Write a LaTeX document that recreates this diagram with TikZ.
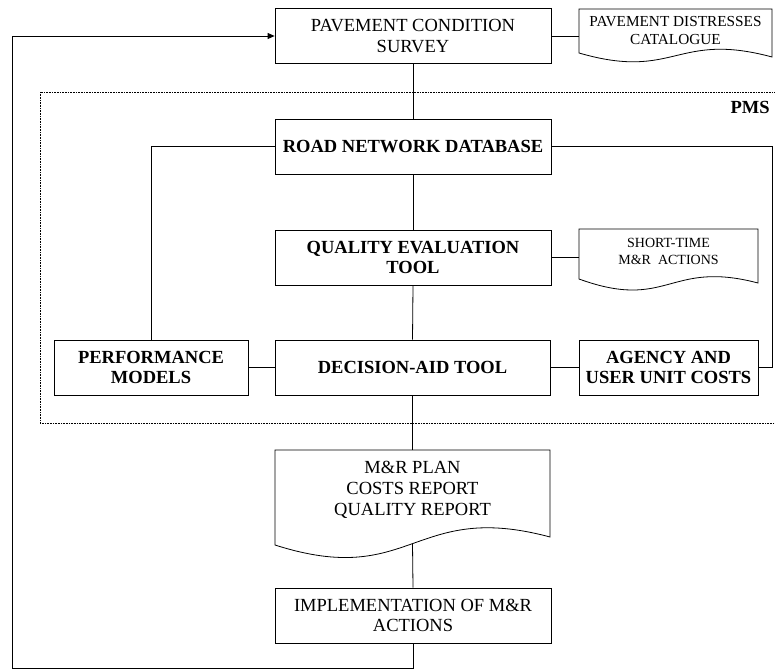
\documentclass[tikz,border=0pt]{standalone}
\usepackage{fontspec}
\setmainfont{Liberation Serif}
\usetikzlibrary{arrows.meta}
\begin{document}
\begin{tikzpicture}[x=1pt,y=-1pt,
  line width=0.8pt,
  box/.style={draw, rectangle, minimum height=55pt, align=center, inner sep=0pt,
    font=\fontsize{18.5}{20.5}\selectfont},
  boldbox/.style={box, font=\fontsize{18.5}{20.5}\selectfont\bfseries},
  doctext/.style={align=center, inner sep=0pt},
  link/.style={draw, line width=0.8pt},
  pmsframe/.style={draw, line width=0.6pt, dash pattern=on 0.8pt off 0.8pt}
]
\useasboundingbox (0,0) rectangle (775,671);

% PMS frame
\draw[pmsframe] (40,92) rectangle (777,423);
\node[font=\fontsize{18.5}{20}\selectfont\bfseries, anchor=east, inner sep=0pt] (pmslabel) at (770,107) {PMS};

% main column
\node[box, minimum width=276pt] (survey) at (413,36) {PAVEMENT CONDITION\\SURVEY};
\node[boldbox, minimum width=276pt] (road) at (413,146.5) {ROAD NETWORK DATABASE};
\node[boldbox, minimum width=276pt] (quality) at (413,257.5) {QUALITY EVALUATION\\TOOL};
\node[boldbox, minimum width=275pt] (decision) at (412.5,367.5) {DECISION-AID TOOL};
\node[boldbox, minimum width=194pt] (perf) at (151,367.5) {PERFORMANCE\\MODELS};
\node[boldbox, minimum width=179pt] (agency) at (668.5,367.5) {AGENCY AND\\USER UNIT COSTS};
\node[box, minimum width=276pt] (impl) at (413,615.5) {IMPLEMENTATION OF M\&R\\ACTIONS};

% document shapes
\draw[link] (579,9) -- (772,9) -- (772,57) .. controls (675.5,31) and (675.5,81) .. (579,53) -- cycle;
\node[doctext, font=\fontsize{15.3}{18}\selectfont] (catalogue) at (675.5,31) {PAVEMENT DISTRESSES\\CATALOGUE};
\coordinate (catalogue-in) at (579,36);

\draw[link] (579,229) -- (758,229) -- (758,283) .. controls (668.5,259.4) and (668.5,311.5) .. (579,279) -- cycle;
\node[doctext, font=\fontsize{14}{17}\selectfont] (shorttime) at (668.5,251) {SHORT-TIME\\M\&R\ \ ACTIONS};
\coordinate (shorttime-in) at (579,257.5);

\draw[link] (275,450) -- (550,450) -- (550,537) .. controls (412.5,500) and (412.5,589) .. (275,545) -- cycle;
\node[doctext, font=\fontsize{18.5}{21}\selectfont] (plan) at (412.5,490) {M\&R PLAN\\COSTS REPORT\\QUALITY REPORT};
\coordinate (plan-top) at (412.5,450);
\coordinate (plan-bottom) at (412.5,543.6);

% connectors
\draw[link] (survey.south) -- (road.north);
\draw[link] (survey.east) -- (catalogue-in);
\draw[link] (road.south) -- (quality.north);
\draw[link] (quality.east) -- (shorttime-in);
\draw[link] (quality.south) -- (decision.north);
\draw[link] (road.west) -| (perf.north);
\coordinate (rightrail) at (772,146.5);
\draw[link] (road.east) -- (rightrail) |- (agency.east);
\draw[link] (perf.east) -- (decision.west);
\draw[link] (decision.east) -- (agency.west);
\draw[link] (decision.south) -- (plan-top);
\draw[link] (plan-bottom) -- (impl.north);

% feedback loop
\coordinate (loopbottom) at (413,668);
\coordinate (loopleft) at (12,668);
\draw[link, -{Triangle[length=7pt,width=6pt]}] (impl.south) -- (loopbottom) -- (loopleft) |- (survey.west);
\end{tikzpicture}
\end{document}
